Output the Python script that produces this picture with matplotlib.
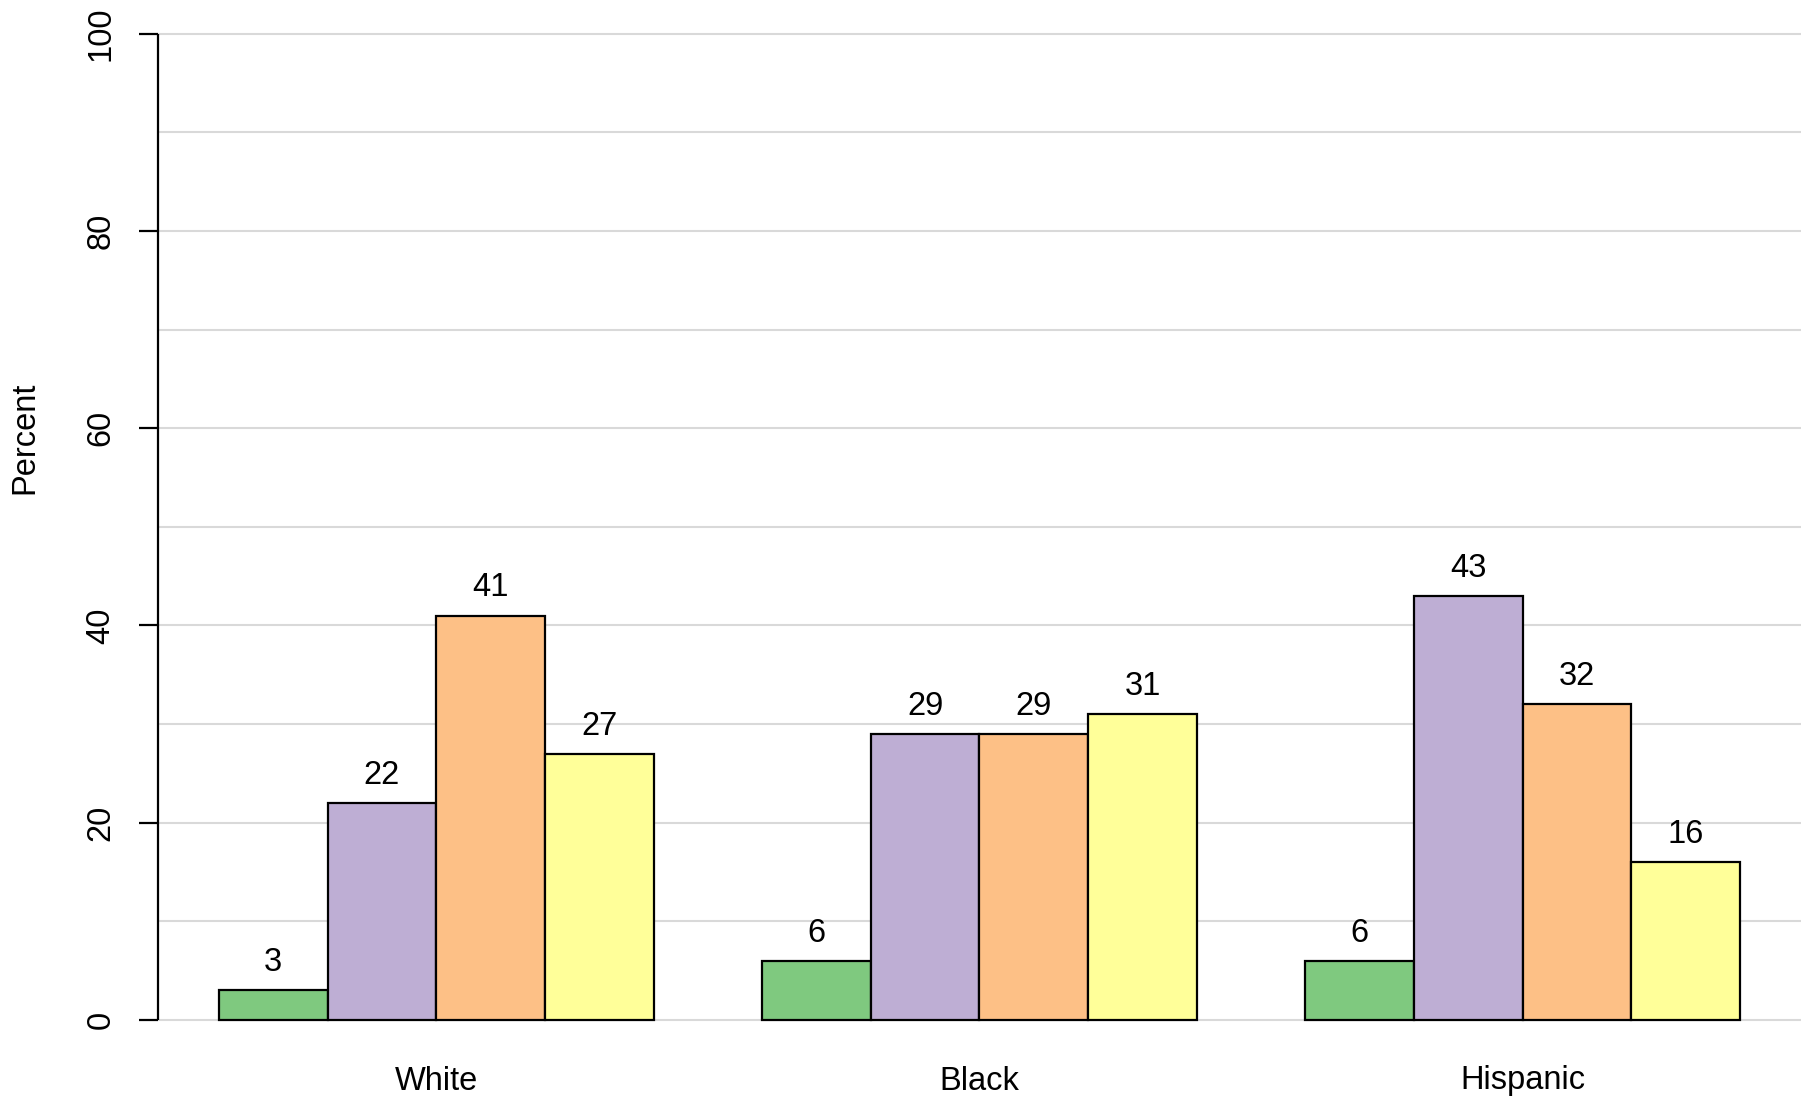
import matplotlib
matplotlib.use("Agg")
import matplotlib.pyplot as plt
import numpy as np

plt.rcParams['font.family'] = ['Liberation Sans', 'DejaVu Sans']

categories = ["White", "Black", "Hispanic"]
series_colors = ["#7FC97F", "#BEAED4", "#FDC086", "#FFFF99"]
values = [
    [3, 6, 6],
    [22, 29, 43],
    [41, 29, 32],
    [27, 31, 16],
]
y_ticks = [0, 20, 40, 60, 80, 100]
y_label = "Percent"

FS = 23.5
W, H = 1816, 1102
fig = plt.figure(figsize=(W / 100, H / 100), dpi=100)

# axes in pixel coords
left_px, right_px = 158, 1801
y0_px, y100_px = 1020, 33.6
ppu = (y0_px - y100_px) / 100.0
ymin = -4
bottom_px = y0_px + 4 * ppu
ymax = 100 + y100_px / ppu
ax = fig.add_axes([left_px / W, (H - bottom_px) / H, (right_px - left_px) / W, bottom_px / H])
ax.set_xlim(0.44, 15.56)
ax.set_ylim(ymin, ymax)
for sp in ax.spines.values():
    sp.set_visible(False)
ax.set_xticks([])
ax.set_yticks([])

# gridlines
for g in range(0, 101, 10):
    ax.axhline(g, color="#D9D9D9", lw=1.5, zorder=0)

n_series = len(values)
for s in range(n_series):
    xs = [1 + gi * (n_series + 1) + s + 0.5 for gi in range(len(categories))]
    ax.bar(xs, values[s], width=1.0, color=series_colors[s], edgecolor="black",
           linewidth=1.6, zorder=2)
    for x, v in zip(xs, values[s]):
        ax.text(x, v + 2.8, str(v), ha="center", va="center", fontsize=FS, zorder=3)

# category labels
for gi, c in enumerate(categories):
    cx = 1 + gi * (n_series + 1) + n_series / 2
    ax.text(cx, -4 - (1081 - bottom_px) / ppu, c, ha="center", va="center",
            fontsize=FS, clip_on=False)

# y axis line and ticks
ax.plot([0.44, 0.44], [0, 100], color="black", lw=1.6, clip_on=False, zorder=4,
        solid_capstyle="butt")
xppu = (right_px - left_px) / (15.56 - 0.44)
tick_len = 19 / xppu
for t in y_ticks:
    ax.plot([0.44 - tick_len, 0.44], [t, t], color="black", lw=1.6, clip_on=False,
            solid_capstyle="butt")
    ax.text(0.44 - 57 / xppu, t, str(t), rotation=90,
            ha="center", va="center", fontsize=FS, clip_on=False)

fig.text(25 / W, 1 - 438 / H, y_label, rotation=90, ha="center", va="center", fontsize=FS)

fig.savefig("out.png", dpi=100, facecolor="white")
